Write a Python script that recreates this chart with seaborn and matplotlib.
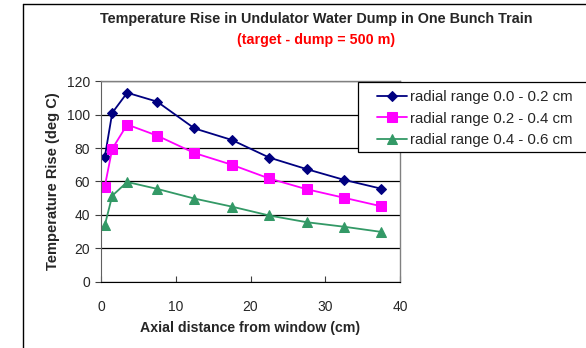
import pandas as pd
import matplotlib.pyplot as plt
from matplotlib.lines import Line2D
from matplotlib.patches import Rectangle
import seaborn as sns

# estilo
sns.set_style("white")
plt.rcParams["font.family"] = ["Liberation Sans", "DejaVu Sans"]

# dados
dist = [0.5, 1.5, 3.5, 7.5, 12.5, 17.5, 22.5, 27.5, 32.5, 37.5]
r_00_02 = [74.5, 101, 113, 107.7, 91.7, 84.8, 74.3, 67.4, 61, 55.7]
r_02_04 = [57, 79.5, 94, 87.4, 77, 70, 61.8, 55.4, 50.3, 45.2]
r_04_06 = [33.8, 51.5, 59.7, 55.6, 49.8, 45, 39.7, 35.7, 33, 29.9]
labels = ["radial range 0.0 - 0.2 cm", "radial range 0.2 - 0.4 cm",
          "radial range 0.4 - 0.6 cm"]
yticks = [0, 20, 40, 60, 80, 100, 120]
xticks = [0, 10, 20, 30, 40]

df = pd.DataFrame({
    "dist": dist * 3,
    "temp": r_00_02 + r_02_04 + r_04_06,
    "serie": [labels[0]] * len(dist) + [labels[1]] * len(dist) + [labels[2]] * len(dist),
})

cores = {labels[0]: "#000080", labels[1]: "#FF00FF", labels[2]: "#339966"}
marcadores = {labels[0]: "D", labels[1]: "s", labels[2]: "^"}
tamanhos = {labels[0]: 5.5, labels[1]: 6.5, labels[2]: 7}

fig = plt.figure(figsize=(5.86, 3.48), dpi=100)
ax = fig.add_axes([0.1724, 0.1897, 0.5102, 0.5775])

for s in labels:
    sub = df[df["serie"] == s]
    sns.lineplot(data=sub, x="dist", y="temp", ax=ax, color=cores[s],
                 marker=marcadores[s], markersize=tamanhos[s],
                 markeredgecolor=cores[s], linewidth=1.3, label=s)

ax.set_xlim(0, 40)
ax.set_ylim(0, 120)
ax.set_xticks(xticks)
ax.set_yticks(yticks)
ax.yaxis.grid(True, color="black", linewidth=0.9)
ax.set_axisbelow(True)
for lado in ["top", "right"]:
    ax.spines[lado].set_color("#808080")
    ax.spines[lado].set_linewidth(1)
ax.spines["left"].set_color("#606060")
ax.spines["bottom"].set_color("black")
ax.tick_params(axis="y", direction="out", length=4, labelsize=10, pad=4,
               left=True, color="#404040")
ax.tick_params(axis="x", direction="in", length=4, labelsize=10, pad=13,
               bottom=True, color="#404040")

ax.set_xlabel("Axial distance from window (cm)", fontsize=10.2,
              fontweight="bold", labelpad=5)
ax.set_ylabel("Temperature Rise (deg C)", fontsize=10.5,
              fontweight="bold", labelpad=5)

fig.text(0.539, 1 - 19 / 348, "Temperature Rise in Undulator Water Dump in One Bunch Train",
         ha="center", va="center", fontsize=10.4, fontweight="bold")
fig.text(0.539, 1 - 40 / 348, "(target - dump = 500 m)", ha="center", va="center",
         fontsize=10.3, fontweight="bold", color="#FF0000")

# legenda sem moldura + caixa desenhada a parte (como no excel)
leg = ax.legend(loc="upper left", bbox_to_anchor=(377 / 586, 1 - 90 / 348),
                bbox_transform=fig.transFigure, fontsize=10.8, frameon=False,
                handlelength=2.0, handletextpad=0.2, labelspacing=0.5,
                borderpad=0, borderaxespad=0)
leg.set_zorder(6)
ax.add_patch(Rectangle((358 / 586, 1 - 152 / 348), 240 / 586, 70 / 348,
                       transform=fig.transFigure, clip_on=False, zorder=5,
                       facecolor="white", edgecolor="black", linewidth=0.9))

# moldura da figura (esquerda e topo)
fig.add_artist(Line2D([23 / 586, 23 / 586], [0, 1 - 4 / 348],
                      transform=fig.transFigure, color="black", linewidth=1))
fig.add_artist(Line2D([23 / 586, 1], [1 - 4 / 348, 1 - 4 / 348],
                      transform=fig.transFigure, color="black", linewidth=1))

fig.savefig("out.png", dpi=100)
